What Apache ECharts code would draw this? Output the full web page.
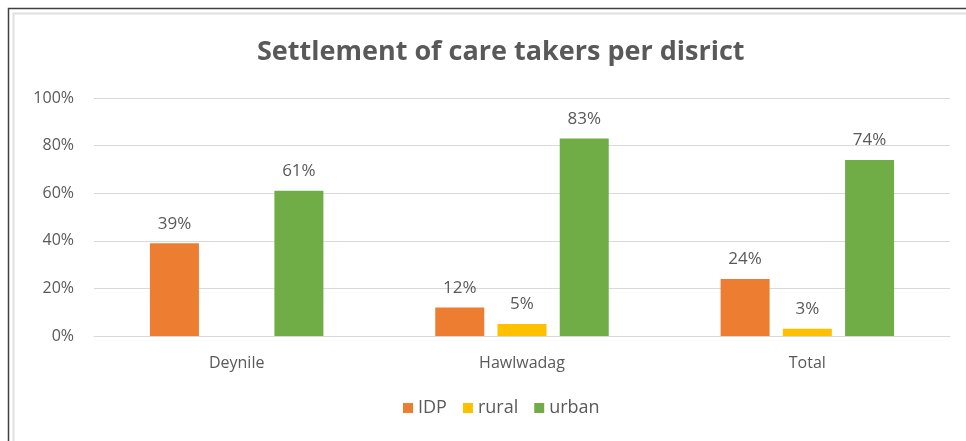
<!DOCTYPE html>
<html>
<head>
<meta charset="utf-8">
<style>
  html, body { margin: 0; padding: 0; background: #ffffff; }
  #chart { width: 966px; height: 441px; }
</style>
<script src="https://cdn.jsdelivr.net/npm/echarts@6/dist/echarts.min.js"></script>
</head>
<body>
<div id="chart"></div>
<script>
// Districts on the category axis
const categories = ['Deynile', 'Hawlwadag', 'Total'];
// Share of care takers by settlement type (percent)
const idpValues = [39, 12, 24];
const ruralValues = [null, 5, 3];
const urbanValues = [61, 83, 74];
// Value axis ticks (percent)
const yTicks = [0, 20, 40, 60, 80, 100];

const FONT = '"Open Sans", "Noto Sans", sans-serif';
const TEXT = '#595959';

const chart = echarts.init(document.getElementById('chart'), null, { renderer: 'canvas' });

function barSeries(name, data, color) {
  return {
    name: name,
    type: 'bar',
    data: data,
    barWidth: 49,
    barGap: '27%',
    itemStyle: { color: color },
    label: {
      show: true,
      position: 'top',
      distance: 11,
      color: TEXT,
      fontFamily: FONT,
      fontSize: 17,
      formatter: p => (p.value == null ? '' : p.value + '%')
    }
  };
}

chart.setOption({
  animation: false,
  backgroundColor: '#ffffff',
  title: {
    text: 'Settlement of care takers per disrict',
    left: 252,
    top: 34,
    textStyle: { color: TEXT, fontFamily: FONT, fontWeight: 'bold', fontSize: 27 }
  },
  graphic: [
    // outer frame (dark) and inner frame (light)
    { type: 'polyline', silent: true, shape: { points: [[8.5, 441], [8.5, 8.5], [966, 8.5]] },
      style: { stroke: '#404040', lineWidth: 1.5, fill: null } },
    { type: 'polyline', silent: true, shape: { points: [[13.5, 441], [13.5, 13.5], [966, 13.5]] },
      style: { stroke: '#e0e0e0', lineWidth: 2, fill: null } }
  ],
  legend: {
    bottom: 19,
    left: 398,
    itemWidth: 10,
    itemHeight: 10,
    itemGap: 16,
    icon: 'rect',
    textStyle: { color: TEXT, fontFamily: FONT, fontSize: 18 },
    data: ['IDP', 'rural', 'urban']
  },
  grid: { left: 94, right: 16, top: 98, bottom: 105, containLabel: false },
  xAxis: {
    type: 'category',
    data: categories,
    axisLine: { show: true, lineStyle: { color: '#d9d9d9', width: 1 } },
    axisTick: { show: false },
    axisLabel: { color: TEXT, fontFamily: FONT, fontSize: 16, margin: 19 }
  },
  yAxis: {
    type: 'value',
    min: yTicks[0],
    max: yTicks[yTicks.length - 1],
    interval: 20,
    axisLine: { show: false },
    axisTick: { show: false },
    splitLine: { lineStyle: { color: '#d9d9d9', width: 1 } },
    axisLabel: { color: TEXT, fontFamily: FONT, fontSize: 16, margin: 20, formatter: '{value}%' }
  },
  series: [
    barSeries('IDP', idpValues, '#ED7D31'),
    barSeries('rural', ruralValues, '#FFC000'),
    barSeries('urban', urbanValues, '#70AD47')
  ]
});
</script>
</body>
</html>
